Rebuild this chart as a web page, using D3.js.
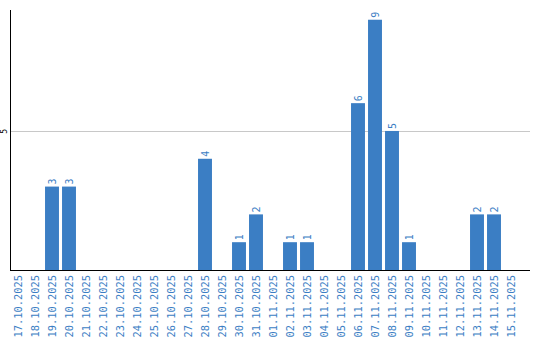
<!DOCTYPE html>
<html>
<head>
<meta charset="utf-8">
<script src="https://cdn.jsdelivr.net/npm/d3@7"></script>
<style>
body { margin: 0; background: #fff; }
</style>
</head>
<body>
<svg id="chart" width="540" height="340"></svg>
<script>
var days = ["17.10.2025","18.10.2025","19.10.2025","20.10.2025","21.10.2025","22.10.2025",
	"23.10.2025","24.10.2025","25.10.2025","26.10.2025","27.10.2025","28.10.2025","29.10.2025",
	"30.10.2025","31.10.2025","01.11.2025","02.11.2025","03.11.2025","04.11.2025","05.11.2025",
	"06.11.2025","07.11.2025","08.11.2025","09.11.2025","10.11.2025","11.11.2025","12.11.2025",
	"13.11.2025","14.11.2025","15.11.2025"];
var counts = [0,0,3,3,0,0,0,0,0,0,0,4,0,1,2,0,1,1,0,0,6,9,5,1,0,0,0,2,2,0];
var yTicks = [5];

var barColor = "#3b7ec4";
var plotL = 10.5, plotR = 530, plotT = 10, plotB = 270; // plot area

var svg = d3.select("#chart");

var x = d3.scaleBand()
	.domain(days)
	.range([plotL - 1, plotL - 1 + 17 * days.length])
	.paddingInner(0.18)
	.paddingOuter(0.09);

var y = d3.scaleLinear()
	.domain([0, 9.35])
	.range([plotB, plotT]);

// gridlines
svg.selectAll("line.grid")
	.data(yTicks)
	.enter()
	.append("line")
	.attr("x1", plotL)
	.attr("x2", plotR)
	.attr("y1", function(d){ return Math.round(y(d)) + 0.5; })
	.attr("y2", function(d){ return Math.round(y(d)) + 0.5; })
	.attr("stroke", "#c8c8c8")
	.attr("stroke-width", 1);

// y tick labels (rotated)
svg.selectAll("text.ytick")
	.data(yTicks)
	.enter()
	.append("text")
	.attr("transform", function(d){ return "translate(7," + (y(d) + 0.5) + ") rotate(-90)"; })
	.attr("text-anchor", "middle")
	.attr("font-family", "DejaVu Sans Mono")
	.attr("font-size", "8px")
	.attr("fill", "#000")
	.text(function(d){ return d; });

// bars
svg.selectAll("rect.bar")
	.data(days)
	.enter()
	.append("rect")
	.attr("x", function(d){ return x(d); })
	.attr("width", x.bandwidth())
	.attr("y", function(d, i){ return y(counts[i]); })
	.attr("height", function(d, i){ return plotB - y(counts[i]); })
	.attr("fill", barColor);

// value labels
svg.selectAll("text.val")
	.data(days.filter(function(d, i){ return counts[i] > 0; }))
	.enter()
	.append("text")
	.attr("transform", function(d){
		var v = counts[days.indexOf(d)];
		return "translate(" + (x(d) + x.bandwidth() / 2 + 3.5) + "," + (y(v) - 2) + ") rotate(-90)";
	})
	.attr("text-anchor", "start")
	.attr("font-family", "DejaVu Sans Mono")
	.attr("font-size", "10px")
	.attr("fill", barColor)
	.text(function(d){ return counts[days.indexOf(d)]; });

// axes lines
svg.append("line")
	.attr("x1", plotL).attr("x2", plotL)
	.attr("y1", plotT).attr("y2", plotB + 0.5)
	.attr("stroke", "#000").attr("stroke-width", 1);
svg.append("line")
	.attr("x1", plotL - 0.5).attr("x2", plotR)
	.attr("y1", plotB + 0.5).attr("y2", plotB + 0.5)
	.attr("stroke", "#000").attr("stroke-width", 1);

// category labels
svg.selectAll("text.cat")
	.data(days)
	.enter()
	.append("text")
	.attr("transform", function(d){
		return "translate(" + (x(d) + x.bandwidth() / 2 + 3.5) + "," + (plotB + 5) + ") rotate(-90)";
	})
	.attr("text-anchor", "end")
	.attr("font-family", "DejaVu Sans Mono")
	.attr("font-size", "10.4px")
	.attr("fill", barColor)
	.text(function(d){ return d; });
</script>
</body>
</html>
